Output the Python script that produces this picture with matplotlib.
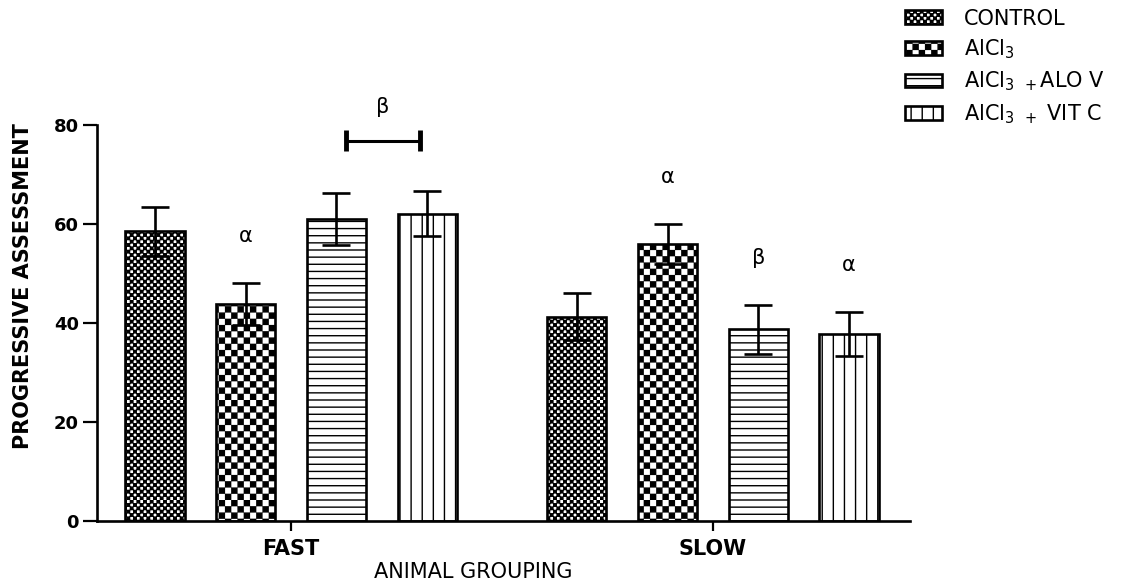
"""Grouped bar chart: progressive assessment by animal grouping (fast / slow)."""

import warnings

import matplotlib
matplotlib.use("Agg")
import matplotlib.hatch as mhatch
import matplotlib.pyplot as plt
import numpy as np
from matplotlib.path import Path

warnings.filterwarnings("ignore", category=matplotlib.MatplotlibDeprecationWarning)

groups = ["FAST", "SLOW"]
treatments = ["CONTROL", r"AlCl$_3$", r"AlCl$_3$ $_+$ALO V", r"AlCl$_3$ $_+$ VIT C"]

control = [58.5, 41.3]
alcl3 = [43.8, 56.0]
alcl3_alov = [61.0, 38.7]
alcl3_vitc = [62.1, 37.8]

control_err = [4.9, 4.8]
alcl3_err = [4.3, 4.0]
alcl3_alov_err = [5.3, 4.9]
alcl3_vitc_err = [4.6, 4.4]

# (group index, treatment index, symbol) placed above the error bar
marks = [(0, 1, "α"), (1, 1, "α"), (1, 2, "β"), (1, 3, "α")]
# bracket between two treatments of one group
bracket = (0, 2, 3, "β", 76.8)

LINE_W = 1.9
BAR_W = 0.14
STEP = 0.215
FONT = "DejaVu Sans"


class CheckerHatch(mhatch.HatchPatternBase):
    """Checkerboard of filled squares: 'c' coarse cells, 'k' fine cells."""

    def __init__(self, hatch, density):
        if "c" in hatch:
            self.cells, self.inset = 16, 0.006
        elif "k" in hatch:
            self.cells, self.inset = 30, 0.004
        else:
            self.cells = 0
        self.num_vertices = 5 * (self.cells * self.cells // 2) if self.cells else 0

    def set_vertices_and_codes(self, vertices, codes):
        n = self.cells
        size = 1.0 / n
        k = 0
        for i in range(n):
            for j in range(n):
                if (i + j) % 2:
                    continue
                x0, y0 = i * size + self.inset, j * size + self.inset
                x1, y1 = (i + 1) * size - self.inset, (j + 1) * size - self.inset
                vertices[k:k + 5] = [(x0, y0), (x1, y0), (x1, y1), (x0, y1), (x0, y0)]
                codes[k:k + 5] = [Path.MOVETO, Path.LINETO, Path.LINETO,
                                  Path.LINETO, Path.CLOSEPOLY]
                k += 5


class StripeHatch(mhatch.HatchPatternBase):
    """Evenly spaced stripes: 'h' horizontal (14 per tile), 'v' vertical (9 per tile)."""

    def __init__(self, hatch, density):
        self.horizontal = "h" in hatch
        self.lines = 14 if self.horizontal else (9 if "v" in hatch else 0)
        self.num_vertices = 2 * (self.lines + 1) if self.lines else 0

    def set_vertices_and_codes(self, vertices, codes):
        steps = np.linspace(0.0, 1.0, self.lines + 1)
        if self.horizontal:
            vertices[0::2, 0], vertices[1::2, 0] = 0.0, 1.0
            vertices[0::2, 1] = vertices[1::2, 1] = steps
        else:
            vertices[0::2, 1], vertices[1::2, 1] = 0.0, 1.0
            vertices[0::2, 0] = vertices[1::2, 0] = steps
        codes[0::2] = Path.MOVETO
        codes[1::2] = Path.LINETO


mhatch._hatch_types.extend([CheckerHatch, StripeHatch])

plt.rcParams.update({
    "font.family": FONT,
    "mathtext.default": "regular",
    "axes.linewidth": LINE_W,
    "hatch.linewidth": 1.0,
    "hatch.color": "black",
})

means = [control, alcl3, alcl3_alov, alcl3_vitc]
errs = [control_err, alcl3_err, alcl3_alov_err, alcl3_vitc_err]
hatches = ["k", "c", "h", "v"]

fig = plt.figure(figsize=(11.41, 5.81), dpi=100)
ax = fig.add_axes([0.085, 0.1033, 0.7125, 0.6816])

x = np.arange(len(groups))
offsets = (np.arange(len(treatments)) - 1.5) * STEP

for t, label in enumerate(treatments):
    ax.bar(x + offsets[t], means[t], width=BAR_W, facecolor="white",
           edgecolor="black", linewidth=LINE_W, hatch=hatches[t], label=label,
           zorder=2)
    ax.errorbar(x + offsets[t], means[t], yerr=errs[t], fmt="none",
                ecolor="black", elinewidth=LINE_W, capsize=10,
                capthick=LINE_W, zorder=3)

for g, t, sym in marks:
    ax.text(x[g] + offsets[t], means[t][g] + errs[t][g] + 9.5, sym,
            ha="center", va="center", fontsize=15, clip_on=False)

g, t1, t2, sym, yb = bracket
xa = x[g] + offsets[t1] + 0.022
xb = x[g] + offsets[t2] - 0.018
ax.plot([xa, xb], [yb, yb], color="black", lw=2.2, clip_on=False,
        solid_capstyle="butt")
for xe in (xa, xb):
    ax.plot([xe, xe], [yb - 2.1, yb + 2.1], color="black", lw=3.5,
            clip_on=False, solid_capstyle="butt")
ax.text((xa + xb) / 2, yb + 6.8, sym, ha="center", va="center", fontsize=15,
        clip_on=False)

ax.set_xlim(-0.46, 1.467)
ax.set_ylim(0, 80)
ax.set_yticks([0, 20, 40, 60, 80])
ax.set_xticks(x)
ax.set_xticklabels(groups, fontsize=15, fontweight="bold")
ax.tick_params(axis="y", length=10, width=1.6, pad=3, labelsize=13)
ax.tick_params(axis="x", length=7, width=1.6, pad=6)
for lab in ax.get_yticklabels():
    lab.set_fontweight("bold")

ax.spines["top"].set_visible(False)
ax.spines["right"].set_visible(False)

ax.set_ylabel("PROGRESSIVE ASSESSMENT", fontsize=15, fontweight="bold")
ax.yaxis.set_label_coords(-0.079, 0.593)
ax.set_xlabel("ANIMAL GROUPING", fontsize=15)
ax.xaxis.set_label_coords(0.4625, -0.103)

fig.legend(loc="upper left", bbox_to_anchor=(0.784, 1.003), frameon=False,
           fontsize=15, handlelength=1.8, handleheight=0.65,
           handletextpad=1.05, labelspacing=0.42, borderpad=0)

fig.savefig("out.png", dpi=100)
